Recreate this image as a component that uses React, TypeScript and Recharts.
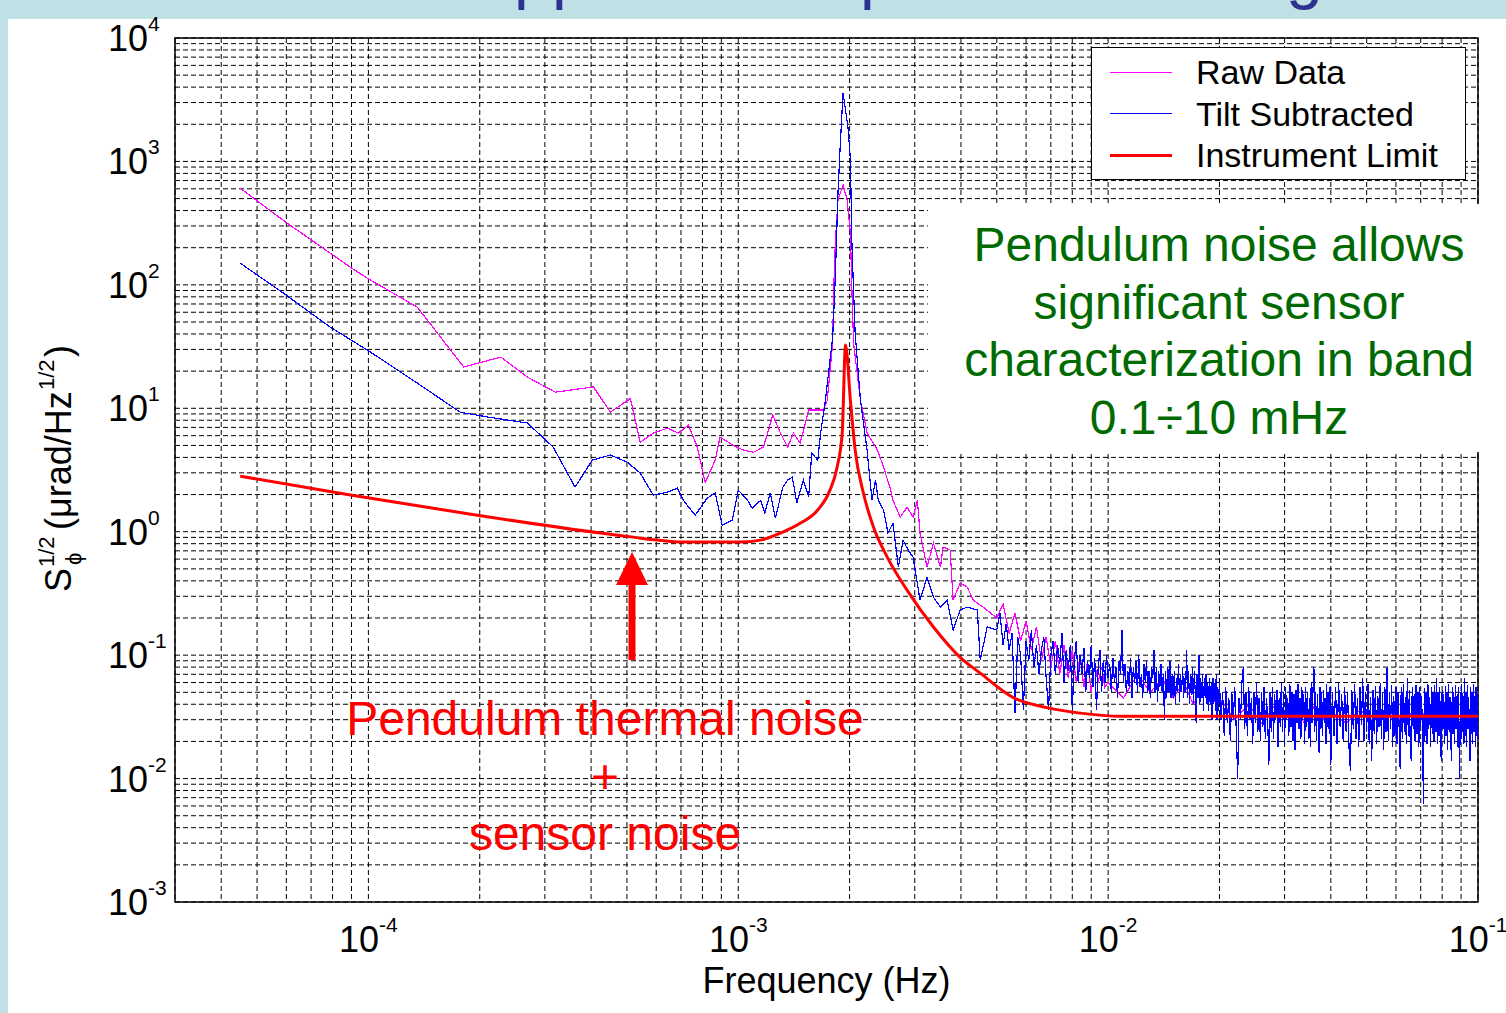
import React from "react";
import { LineChart, Line, XAxis, YAxis, CartesianGrid, Legend, ReferenceArea } from "recharts";

const FONT = "'Liberation Sans', Arial, Helvetica, sans-serif";

// frequency (Hz) / amplitude (µrad/√Hz)
const RAW_F = [4.5e-5, 5.97e-5, 7.88e-5, 8.94e-5, 9.94e-5, 1.356e-4, 1.81e-4, 2.28e-4, 2.69e-4, 3.2e-4, 4.06e-4, 4.51e-4, 5.11e-4, 5.43e-4, 5.89e-4, 6.43e-4, 6.89e-4, 7.33e-4, 7.75e-4, 8.14e-4, 8.66e-4, 8.93e-4, 9.69e-4, 1.03e-3, 1.1e-3, 1.17e-3, 1.24e-3, 1.3e-3, 1.36e-3, 1.41e-3, 1.47e-3, 1.55e-3, 1.65e-3, 1.7e-3, 1.74e-3, 1.8e-3, 1.81e-3, 1.83e-3, 1.86e-3, 1.92e-3, 1.97e-3, 2.01e-3, 2.03e-3, 2.05e-3, 2.14e-3, 2.23e-3, 2.38e-3, 2.47e-3, 2.57e-3, 2.62e-3, 2.74e-3, 2.86e-3, 2.97e-3, 3.05e-3, 3.1e-3, 3.24e-3, 3.37e-3, 3.52e-3, 3.58e-3, 3.74e-3, 3.81e-3, 3.98e-3, 4.16e-3, 4.32e-3, 4.59e-3];
const RAW_V = [608, 323, 181, 139, 113, 66, 21.6, 26, 17.9, 13.5, 14.9, 9.3, 12, 5.3, 6.3, 6.9, 6.3, 7.3, 4.85, 2.5, 3.8, 5.85, 5.0, 4.6, 4.4, 4.85, 8.8, 6.3, 4.85, 6.3, 5.2, 9.7, 9.7, 9.7, 11.6, 33.7, 86, 218, 487, 644, 487, 263, 86, 33.7, 11.6, 6.3, 4.58, 3.34, 2.3, 1.8, 1.31, 1.58, 1.31, 1.8, 0.975, 0.516, 0.81, 0.516, 0.75, 0.71, 0.279, 0.383, 0.356, 0.279, 0.245];
const RAW_HF_MHZ = [5.0, 5.2, 5.4, 5.6, 5.8, 6.0, 6.2, 6.4, 6.6, 6.8, 7.0, 7.2, 7.4, 7.6, 7.8, 8.0, 8.2, 8.4, 8.6, 8.8, 9.0, 9.2, 9.4, 9.6, 9.8, 10, 11, 12, 13, 14, 15, 16, 17, 18, 19, 20, 22, 24, 26, 28, 30, 32, 34, 36, 38, 40, 44, 48, 52, 56, 60, 64, 68, 72, 76, 80, 84, 88, 92, 96, 100];
const RAW_HF_V = [0.2, 0.26, 0.15, 0.22, 0.13, 0.19, 0.11, 0.17, 0.09, 0.14, 0.08, 0.13, 0.07, 0.12, 0.065, 0.11, 0.06, 0.1, 0.055, 0.09, 0.05, 0.085, 0.06, 0.08, 0.055, 0.06, 0.045, 0.07, 0.05, 0.065, 0.045, 0.06, 0.04, 0.055, 0.04, 0.045, 0.03, 0.04, 0.028, 0.038, 0.03, 0.036, 0.028, 0.038, 0.03, 0.035, 0.028, 0.036, 0.029, 0.035, 0.028, 0.036, 0.03, 0.034, 0.028, 0.035, 0.029, 0.034, 0.028, 0.035, 0.03];

const TILT_F = [4.5e-5, 5.88e-5, 7.88e-5, 9.94e-5, 1.356e-4, 1.77e-4, 2.1e-4, 2.69e-4, 3.16e-4, 3.62e-4, 4.03e-4, 4.51e-4, 5.01e-4, 5.43e-4, 5.89e-4, 6.43e-4, 6.84e-4, 7.1e-4, 7.65e-4, 8.24e-4, 8.66e-4, 9.05e-4, 9.64e-4, 1.0e-3, 1.06e-3, 1.09e-3, 1.15e-3, 1.18e-3, 1.22e-3, 1.26e-3, 1.32e-3, 1.36e-3, 1.4e-3, 1.44e-3, 1.5e-3, 1.55e-3, 1.58e-3, 1.64e-3, 1.67e-3, 1.72e-3, 1.8e-3, 1.83e-3, 1.86e-3, 1.89e-3, 1.92e-3, 1.98e-3, 2.01e-3, 2.03e-3, 2.07e-3, 2.14e-3, 2.23e-3, 2.3e-3, 2.35e-3, 2.39e-3, 2.47e-3, 2.54e-3, 2.62e-3, 2.71e-3, 2.79e-3, 2.88e-3, 2.97e-3, 3.1e-3, 3.24e-3, 3.37e-3, 3.52e-3, 3.67e-3, 3.81e-3, 3.98e-3, 4.16e-3, 4.43e-3, 4.51e-3, 4.71e-3];
const TILT_V = [150, 86, 45.5, 29.6, 16.0, 9.3, 8.5, 7.6, 4.85, 2.3, 3.8, 4.18, 3.66, 2.99, 1.98, 2.09, 2.25, 1.8, 1.36, 1.87, 2.06, 1.13, 1.24, 2.17, 1.8, 1.55, 1.8, 1.42, 2.06, 1.29, 2.3, 2.62, 2.77, 1.71, 2.62, 1.91, 4.34, 3.8, 6.3, 11.6, 37.8, 116, 555, 1490, 3580, 1900, 1026, 202, 40.7, 11.6, 4.58, 1.8, 2.62, 1.8, 1.5, 0.975, 1.17, 0.516, 0.855, 0.71, 0.62, 0.279, 0.428, 0.295, 0.245, 0.279, 0.16, 0.232, 0.245, 0.232, 0.091, 0.169];

// dense part of the spectrum, frequency in mHz
const TILT_MHZ_A = [5.0, 5.1, 5.2, 5.3, 5.4, 5.5, 5.6, 5.7, 5.8, 5.9, 6.0, 6.1, 6.2, 6.3, 6.4, 6.5, 6.6, 6.7, 6.8, 6.9, 7.0, 7.1, 7.2, 7.3, 7.4, 7.5, 7.6, 7.7, 7.8, 7.9, 8.0, 8.1, 8.2, 8.3, 8.4, 8.5, 8.6, 8.7, 8.8, 8.9, 9.0, 9.1, 9.2, 9.3, 9.4, 9.5, 9.6, 9.7, 9.8, 9.9];
const TILT_A = [0.16, 0.22, 0.12, 0.18, 0.11, 0.15, 0.034, 0.14, 0.1, 0.036, 0.13, 0.09, 0.16, 0.08, 0.12, 0.07, 0.11, 0.14, 0.065, 0.036, 0.1, 0.13, 0.07, 0.12, 0.085, 0.15, 0.06, 0.11, 0.075, 0.12, 0.036, 0.09, 0.13, 0.06, 0.1, 0.07, 0.115, 0.05, 0.09, 0.065, 0.12, 0.055, 0.095, 0.036, 0.08, 0.11, 0.05, 0.09, 0.06, 0.1];
const TILT_MHZ_B = [
  10.0, 10.1, 10.2, 10.3, 10.4, 10.5, 10.6, 10.7, 10.8, 10.9,
  11.0, 11.1, 11.2, 11.3, 11.4, 11.5, 11.6, 11.7, 11.8, 11.9,
  12.0, 12.1, 12.2, 12.3, 12.4, 12.5, 12.6, 12.7, 12.8, 12.9,
  13.0, 13.1, 13.2, 13.3, 13.4, 13.5, 13.6, 13.7, 13.8, 13.9,
  14.0, 14.1, 14.2, 14.3, 14.4, 14.5, 14.6, 14.7, 14.8, 14.9,
  15.0, 15.1, 15.2, 15.3, 15.4, 15.5, 15.6, 15.7, 15.8, 15.9,
  16.0, 16.1, 16.2, 16.3, 16.4, 16.5, 16.6, 16.7, 16.8, 16.9,
  17.0, 17.1, 17.2, 17.3, 17.4, 17.5, 17.6, 17.7, 17.8, 17.9,
  18.0, 18.1, 18.2, 18.3, 18.4, 18.5, 18.6, 18.7, 18.8, 18.9,
  19.0, 19.1, 19.2, 19.3, 19.4, 19.5, 19.6, 19.7, 19.8, 19.9,
];
const TILT_B = [
  0.065, 0.085, 0.05, 0.095, 0.06, 0.08, 0.045, 0.09, 0.07, 0.16,
  0.06, 0.085, 0.05, 0.075, 0.055, 0.095, 0.045, 0.08, 0.06, 0.09,
  0.05, 0.1, 0.055, 0.07, 0.045, 0.085, 0.06, 0.09, 0.05, 0.075,
  0.045, 0.08, 0.065, 0.11, 0.05, 0.08, 0.042, 0.075, 0.055, 0.085,
  0.05, 0.07, 0.03, 0.075, 0.045, 0.08, 0.05, 0.09, 0.045, 0.07,
  0.045, 0.075, 0.04, 0.065, 0.05, 0.085, 0.042, 0.07, 0.05, 0.08,
  0.045, 0.065, 0.05, 0.11, 0.045, 0.075, 0.04, 0.07, 0.048, 0.08,
  0.04, 0.075, 0.05, 0.028, 0.07, 0.045, 0.1, 0.04, 0.065, 0.045,
  0.07, 0.035, 0.065, 0.045, 0.07, 0.04, 0.06, 0.035, 0.065, 0.04,
  0.06, 0.03, 0.065, 0.04, 0.06, 0.035, 0.07, 0.03, 0.055, 0.035,
];
const TILT_MHZ_C = [
  20.0, 20.2, 20.4, 20.6, 20.8, 21.0, 21.2, 21.4, 21.6, 21.8,
  22.0, 22.2, 22.4, 22.6, 22.8, 23.0, 23.2, 23.4, 23.6, 23.8,
  24.0, 24.2, 24.4, 24.6, 24.8, 25.0, 25.2, 25.4, 25.6, 25.8,
  26.0, 26.2, 26.4, 26.6, 26.8, 27.0, 27.2, 27.4, 27.6, 27.8,
  28.0, 28.2, 28.4, 28.6, 28.8, 29.0, 29.2, 29.4, 29.6, 29.8,
  30.0, 30.2, 30.4, 30.6, 30.8, 31.0, 31.2, 31.4, 31.6, 31.8,
  32.0, 32.2, 32.4, 32.6, 32.8, 33.0, 33.2, 33.4, 33.6, 33.8,
  34.0, 34.2, 34.4, 34.6, 34.8, 35.0, 35.2, 35.4, 35.6, 35.8,
  36.0, 36.2, 36.4, 36.6, 36.8, 37.0, 37.2, 37.4, 37.6, 37.8,
  38.0, 38.2, 38.4, 38.6, 38.8, 39.0, 39.2, 39.4, 39.6, 39.8,
];
const TILT_C = [
  0.06, 0.03, 0.05, 0.022, 0.055, 0.028, 0.045, 0.02, 0.05, 0.03,
  0.055, 0.025, 0.01, 0.045, 0.03, 0.06, 0.08, 0.025, 0.05, 0.022,
  0.055, 0.03, 0.045, 0.019, 0.05, 0.028, 0.06, 0.024, 0.045, 0.02,
  0.05, 0.026, 0.055, 0.021, 0.045, 0.03, 0.013, 0.05, 0.024, 0.055,
  0.021, 0.048, 0.03, 0.052, 0.018, 0.045, 0.026, 0.06, 0.024, 0.05,
  0.019, 0.055, 0.03, 0.045, 0.022, 0.058, 0.026, 0.05, 0.02, 0.048,
  0.017, 0.052, 0.028, 0.058, 0.025, 0.045, 0.021, 0.055, 0.03, 0.048,
  0.019, 0.055, 0.026, 0.05, 0.021, 0.045, 0.018, 0.06, 0.028, 0.052,
  0.08, 0.024, 0.05, 0.02, 0.048, 0.03, 0.016, 0.055, 0.025, 0.05,
  0.022, 0.052, 0.028, 0.045, 0.019, 0.058, 0.026, 0.05, 0.023, 0.055,
];
const TILT_MHZ_D = [
  40.0, 40.4, 40.8, 41.2, 41.6, 42.0, 42.4, 42.8, 43.2, 43.6,
  44.0, 44.4, 44.8, 45.2, 45.6, 46.0, 46.4, 46.8, 47.2, 47.6,
  48.0, 48.4, 48.8, 49.2, 49.6, 50.0, 50.4, 50.8, 51.2, 51.6,
  52.0, 52.4, 52.8, 53.2, 53.6, 54.0, 54.4, 54.8, 55.2, 55.6,
  56.0, 56.4, 56.8, 57.2, 57.6, 58.0, 58.4, 58.8, 59.2, 59.6,
  60.0, 60.4, 60.8, 61.2, 61.6, 62.0, 62.4, 62.8, 63.2, 63.6,
  64.0, 64.4, 64.8, 65.2, 65.6, 66.0, 66.4, 66.8, 67.2, 67.6,
  68.0, 68.4, 68.8, 69.2, 69.6, 70.0, 70.4, 70.8, 71.2, 71.6,
  72.0, 72.4, 72.8, 73.2, 73.6, 74.0, 74.4, 74.8, 75.2, 75.6,
  76.0, 76.4, 76.8, 77.2, 77.6, 78.0, 78.4, 78.8, 79.2, 79.6,
  80.0, 80.4, 80.8, 81.2, 81.6, 82.0, 82.4, 82.8, 83.2, 83.6,
  84.0, 84.4, 84.8, 85.2, 85.6, 86.0, 86.4, 86.8, 87.2, 87.6,
  88.0, 88.4, 88.8, 89.2, 89.6, 90.0, 90.4, 90.8, 91.2, 91.6,
  92.0, 92.4, 92.8, 93.2, 93.6, 94.0, 94.4, 94.8, 95.2, 95.6,
  96.0, 96.4, 96.8, 97.2, 97.6, 98.0, 98.4, 98.8, 99.2, 99.6,
  100.0,
];
const TILT_D = [
  0.013, 0.05, 0.022, 0.055, 0.019, 0.06, 0.026, 0.048, 0.02, 0.055,
  0.024, 0.05, 0.018, 0.0115, 0.052, 0.025, 0.058, 0.021, 0.045, 0.018,
  0.055, 0.027, 0.065, 0.02, 0.05, 0.024, 0.058, 0.019, 0.046, 0.014,
  0.052, 0.023, 0.056, 0.019, 0.047, 0.026, 0.06, 0.021, 0.05, 0.017,
  0.055, 0.024, 0.08, 0.02, 0.05, 0.025, 0.057, 0.018, 0.047, 0.022,
  0.055, 0.019, 0.05, 0.026, 0.012, 0.055, 0.021, 0.058, 0.024, 0.046,
  0.019, 0.065, 0.022, 0.052, 0.018, 0.014, 0.055, 0.025, 0.048, 0.02,
  0.057, 0.023, 0.05, 0.018, 0.055, 0.026, 0.047, 0.021, 0.0062, 0.054,
  0.022, 0.05, 0.019, 0.058, 0.025, 0.046, 0.018, 0.055, 0.023, 0.05,
  0.02, 0.057, 0.024, 0.065, 0.019, 0.05, 0.022, 0.055, 0.018, 0.014,
  0.052, 0.025, 0.048, 0.019, 0.056, 0.022, 0.05, 0.017, 0.058, 0.024,
  0.046, 0.02, 0.014, 0.055, 0.023, 0.05, 0.019, 0.057, 0.025, 0.047,
  0.018, 0.055, 0.022, 0.01, 0.05, 0.021, 0.058, 0.024, 0.047, 0.019,
  0.065, 0.022, 0.05, 0.018, 0.057, 0.025, 0.046, 0.02, 0.014, 0.055,
  0.023, 0.05, 0.019, 0.058, 0.024, 0.047, 0.018, 0.055, 0.022, 0.048,
  0.021,
];

const LIMIT_F = [4.5e-5, 8.94e-5, 1.97e-4, 4.24e-4, 5.2e-4, 6.04e-4, 7.1e-4, 1.01e-3, 1.15e-3, 1.3e-3, 1.47e-3, 1.64e-3, 1.77e-3, 1.85e-3, 1.91e-3, 1.95e-3, 2.01e-3, 2.07e-3, 2.18e-3, 2.32e-3, 2.53e-3, 2.86e-3, 3.37e-3, 3.98e-3, 4.51e-3, 5.57e-3, 6.93e-3, 8.4e-3, 1.08e-2, 0.1];
const LIMIT_V = [2.82, 1.98, 1.36, 0.975, 0.904, 0.855, 0.824, 0.824, 0.855, 0.975, 1.17, 1.5, 2.17, 3.33, 6.3, 32.5, 11.6, 4.6, 2.05, 1.09, 0.62, 0.336, 0.169, 0.096, 0.0715, 0.0449, 0.0372, 0.0339, 0.032, 0.032];

const MANTISSAS = [1, 2, 3, 4, 5, 6, 7, 8, 9];
const X_DECADES = [-5, -4, -3, -2, -1];
const Y_DECADES = [-3, -2, -1, 0, 1, 2, 3, 4];

const zip = (fs: number[], vs: number[]) => fs.map((f, i) => ({ f, v: vs[i] }));
const mHz = (a: number[]) => a.map((x) => x / 1000);

const RAW = [...zip(RAW_F, RAW_V), ...zip(mHz(RAW_HF_MHZ), RAW_HF_V)];
const TILT = [
  ...zip(TILT_F, TILT_V),
  ...zip(mHz(TILT_MHZ_A), TILT_A),
  ...zip(mHz(TILT_MHZ_B), TILT_B),
  ...zip(mHz(TILT_MHZ_C), TILT_C),
  ...zip(mHz(TILT_MHZ_D), TILT_D),
];
const LIMIT = zip(LIMIT_F, LIMIT_V);

const X_MIN = 3e-5;
const X_MAX = 0.1;
const Y_MIN = 1e-3;
const Y_MAX = 1e4;

const logTicks = (decades: number[], lo: number, hi: number) =>
  decades
    .flatMap((d) => MANTISSAS.map((m) => Number((m * Math.pow(10, d)).toPrecision(3))))
    .filter((t) => t > lo * 1.0001 && t <= hi * 1.0001);

const X_TICKS = logTicks(X_DECADES, X_MIN, X_MAX);
const Y_TICKS = logTicks(Y_DECADES, Y_MIN * 0.999, Y_MAX);

const SERIES = [
  { name: "Raw Data", color: "#ff00ff", width: 1 },
  { name: "Tilt Subtracted", color: "#0000ff", width: 1 },
  { name: "Instrument Limit", color: "#ff0000", width: 3 },
];

const decadeOf = (v: number) => {
  const p = Math.log10(v);
  const e = Math.round(p);
  return Math.abs(p - e) < 1e-6 ? e : null;
};

const XTick = ({ x, y, payload }: any) => {
  const e = decadeOf(payload.value);
  if (e === null) return null;
  return (
    <text x={x} y={y + 50} textAnchor="middle" fontSize={36} fontFamily={FONT} fill="#000">
      10<tspan dy={-20} fontSize={21}>{e}</tspan>
    </text>
  );
};

const YTick = ({ x, y, payload }: any) => {
  const e = decadeOf(payload.value);
  if (e === null) return null;
  return (
    <text x={x - 67} y={y + 13} textAnchor="start" fontSize={36} fontFamily={FONT} fill="#000">
      10<tspan dy={-20} fontSize={21}>{e}</tspan>
    </text>
  );
};

const XLabel = (props: any) => {
  const vb = props.viewBox ?? { x: 175, y: 902, width: 1303, height: 111 };
  return (
    <text x={vb.x + vb.width / 2} y={vb.y + 91} textAnchor="middle" fontSize={36} fontFamily={FONT} fill="#000">
      Frequency (Hz)
    </text>
  );
};

const YLabel = (props: any) => {
  const vb = props.viewBox ?? { x: 0, y: 38, width: 175, height: 864 };
  const bx = vb.x + 71;
  const start = vb.y + vb.height / 2 + 122;
  return (
    <g transform={`translate(${bx},${start}) rotate(-90)`}>
      <text fontFamily={FONT} fill="#000">
        <tspan x={0} y={0} fontSize={36}>S</tspan>
        <tspan x={25} y={-17} fontSize={22}>1/2</tspan>
        <tspan x={27} y={10} fontSize={22}>ϕ</tspan>
        <tspan x={62} y={0} fontSize={36}>(μrad/Hz</tspan>
        <tspan x={202} y={-17} fontSize={22}>1/2</tspan>
        <tspan x={235} y={0} fontSize={36}>)</tspan>
      </text>
    </g>
  );
};

const LegendBox = () => (
  <div style={{ width: 373, height: 131, border: "1.5px solid #000", background: "#fff", position: "relative", fontFamily: FONT }}>
    {SERIES.map((s, i) => (
      <div key={s.name} style={{ position: "absolute", left: 18, top: 4 + i * 41.5, height: 40, display: "flex", alignItems: "center" }}>
        <div style={{ width: 62, height: s.width, background: s.color }} />
        <span style={{ marginLeft: 24, fontSize: 34, lineHeight: "40px", color: "#000", whiteSpace: "nowrap" }}>{s.name}</span>
      </div>
    ))}
  </div>
);

// bottoms of the slide title letters, cut off by the top edge
const TITLE_SCRAPS = [
  { ch: "p", left: 514 },
  { ch: "p", left: 552 },
  { ch: "p", left: 860 },
  { ch: "g", left: 1286 },
];

export default function App() {
  return (
    <div style={{ position: "absolute", left: 0, top: 0, width: 1506, height: 1013, background: "#bfe1e6", overflow: "hidden", fontFamily: FONT }}>
      <div style={{ position: "absolute", left: 8, top: 19, right: 0, bottom: 0, background: "#fff" }} />
      {TITLE_SCRAPS.map((t, i) => (
        <div key={i} style={{ position: "absolute", left: t.left, top: -60, fontSize: 66, lineHeight: "66px", color: "#2e3192" }}>
          {t.ch}
        </div>
      ))}

      <div style={{ position: "absolute", left: 0, top: 0 }}>
        <LineChart width={1506} height={1013} margin={{ top: 38, right: 28, bottom: 0, left: 0 }}>
          <CartesianGrid stroke="#000" strokeWidth={1} strokeDasharray="5 3" />
          <XAxis
            dataKey="f"
            type="number"
            scale="log"
            domain={[X_MIN, X_MAX]}
            allowDataOverflow
            ticks={X_TICKS}
            interval={0}
            tick={<XTick />}
            tickLine={false}
            tickSize={0}
            tickMargin={0}
            axisLine={false}
            height={111}
            label={<XLabel />}
          />
          <YAxis
            type="number"
            scale="log"
            domain={[Y_MIN, Y_MAX]}
            allowDataOverflow
            ticks={Y_TICKS}
            interval={0}
            tick={<YTick />}
            tickLine={false}
            tickSize={0}
            tickMargin={0}
            axisLine={false}
            width={175}
            label={<YLabel />}
          />
          <ReferenceArea x1={X_MIN} x2={X_MAX} y1={Y_MIN} y2={Y_MAX} fill="none" stroke="#000" strokeWidth={1.5} />
          <Line data={RAW} dataKey="v" type="linear" stroke="#ff00ff" strokeWidth={1.2} shapeRendering="crispEdges" dot={false} activeDot={false} isAnimationActive={false} />
          <Line data={TILT} dataKey="v" type="linear" stroke="#0000ff" strokeWidth={1.2} shapeRendering="crispEdges" dot={false} activeDot={false} isAnimationActive={false} />
          <Line data={LIMIT} dataKey="v" type="monotone" stroke="#ff0000" strokeWidth={3} dot={false} activeDot={false} isAnimationActive={false} />
          <Legend
            content={<LegendBox />}
            layout="vertical"
            align="center"
            verticalAlign="middle"
            wrapperStyle={{ left: 1091, top: 47, width: 376, height: 134 }}
          />
        </LineChart>
      </div>

      <div style={{ position: "absolute", left: 928, top: 204, width: 578, height: 248, background: "#fff" }}>
        <div style={{ paddingTop: 12, paddingLeft: 4, textAlign: "center", fontSize: 48, lineHeight: "57.6px", color: "#006a00" }}>
          Pendulum noise allows<br />significant sensor<br />characterization in band<br />0.1÷10 mHz
        </div>
      </div>

      <div style={{ position: "absolute", left: 305, top: 690, width: 600, textAlign: "center", fontSize: 48, lineHeight: "57.6px", color: "#ff0000" }}>
        Pendulum thermal noise<br />+<br />sensor noise
      </div>

      <svg width={1506} height={1013} style={{ position: "absolute", left: 0, top: 0, pointerEvents: "none" }}>
        <polygon points="616,585 648,585 632,552" fill="#ff0000" />
        <rect x={628.5} y={583} width={7} height={77} fill="#ff0000" />
      </svg>
    </div>
  );
}
